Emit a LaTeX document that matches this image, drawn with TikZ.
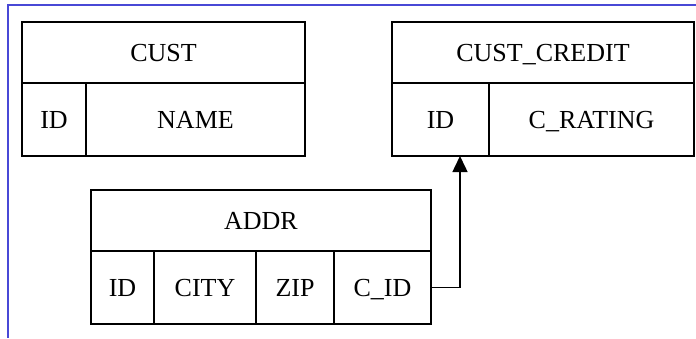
\documentclass[tikz,border=0pt]{standalone}
\usepackage{fontspec}
\setmainfont{Liberation Serif}
\usetikzlibrary{arrows.meta}

\definecolor{framecol}{RGB}{72,72,214}

\tikzset{
  cell/.style={draw, rectangle, inner sep=0pt, outer sep=0pt, anchor=north west,
    line width=0.75pt, text height=9pt, text depth=0pt,
    font=\fontsize{13}{15}\selectfont},
  title/.style={cell, minimum height=30.5pt},
  field/.style={cell, minimum height=36.5pt},
  fk/.style={line width=0.75pt, -{Triangle[length=8pt,width=7.5pt]}},
}

\begin{document}
\begin{tikzpicture}[x=0.5pt,y=-0.5pt]
  \useasboundingbox (0,0) rectangle (696,338);
  \draw[framecol, line width=0.9pt] (696,5) -| (8,338);

  % CUST
  \node[title, minimum width=141.5pt] (cust) at (22,22) {CUST};
  \node[field, minimum width=32pt] (custid) at (cust.south west) {ID};
  \node[field, minimum width=109.5pt] (custname) at (custid.north east) {NAME};

  % CUST_CREDIT
  \node[title, minimum width=151pt] (credit) at (392,22) {CUST\_CREDIT};
  \node[field, minimum width=48.5pt] (creditid) at (credit.south west) {ID};
  \node[field, minimum width=102.5pt] (rating) at (creditid.north east) {C\_RATING};

  % ADDR
  \node[title, minimum width=170pt] (addr) at (91,190) {ADDR};
  \node[field, minimum width=31.5pt] (addrid) at (addr.south west) {ID};
  \node[field, minimum width=51pt] (city) at (addrid.north east) {CITY};
  \node[field, minimum width=39pt] (zip) at (city.north east) {ZIP};
  \node[field, minimum width=48.5pt] (cid) at (zip.north east) {C\_ID};

  % foreign key
  \draw[fk] (cid.east) -| ([xshift=9.75pt]creditid.south);
\end{tikzpicture}
\end{document}
